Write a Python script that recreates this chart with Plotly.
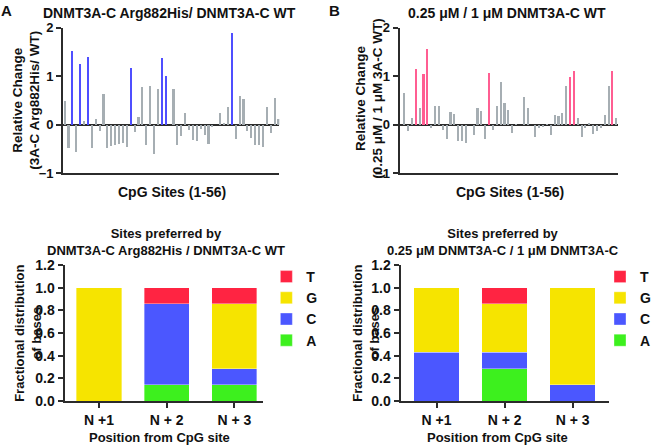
import plotly.graph_objects as go

W, H = 656, 445

# ---------------- data ----------------
sites = list(range(1, 57))
mutant_wt_change = [0.49, -0.49, 1.52, -0.56, 1.24, 0.07, 1.40, -0.48, 0.12, -0.13,
                    0.63, -0.48, -0.45, -0.43, -0.41, -0.38, -0.47, 1.16, -0.16, 0.16,
                    0.77, -0.42, 0.79, -0.61, 0.74, 1.37, 0.99, 0.0, 0.74, -0.42,
                    -0.23, 0.24, -0.12, -0.32, -0.34, -0.10, -0.21, -0.40, -0.05, 0.0,
                    0.24, 0.03, 0.36, 1.88, -0.29, 0.59, 0.53, -0.13, -0.27, -0.43,
                    -0.43, -0.47, 0.36, -0.17, 0.55, 0.12]
mutant_preferred = [3, 5, 7, 18, 26, 27, 44]

conc_change = [0.64, -0.14, 0.14, 1.14, 0.34, 1.05, 1.55, -0.08, 0.38, 0.38,
               -0.12, -0.29, 0.25, 0.21, -0.34, -0.35, -0.38, 0.0, -0.21, 0.33,
               0.28, -0.30, 1.06, -0.12, 0.38, 0.88, 0.44, 0.30, -0.17, 0.01,
               0.0, 0.56, 0.34, 0.0, -0.25, -0.08, -0.05, 0.01, -0.21, 0.19,
               0.18, 0.24, 0.79, 0.98, 1.10, 0.13, -0.26, -0.08, 0.04, -0.19,
               -0.14, -0.08, 0.20, 0.79, 1.11, 0.13]
conc_preferred = [4, 6, 7, 23, 44, 45, 55]

positions = ["N +1", "N + 2", "N + 3"]
bases = ["A", "C", "G", "T"]
mutant_fractions = {
    "A": [0.0, 1/7, 1/7],
    "C": [0.0, 5/7, 1/7],
    "G": [1.0, 0.0, 4/7],
    "T": [0.0, 1/7, 1/7],
}
conc_fractions = {
    "A": [0.0, 2/7, 0.0],
    "C": [3/7, 1/7, 1/7],
    "G": [4/7, 3/7, 6/7],
    "T": [0.0, 1/7, 0.0],
}
base_colors = {"A": "#3DF01E", "C": "#4B57FF", "G": "#F6E400", "T": "#FF2442"}

GRAY = "#A6AEB3"
BLUE = "#4F4FFF"
PINK = "#FF5E92"
AX = "#2b2b2b"
FONT = "Liberation Sans, Arial, sans-serif"


def px(x):
    return x / W


def py(y):
    return 1 - y / H


fig = go.Figure()

# ---------------- top bar charts ----------------
fig.add_trace(go.Bar(
    x=sites, y=mutant_wt_change, width=0.55,
    marker=dict(color=[BLUE if s in mutant_preferred else GRAY for s in sites], line=dict(width=0)),
    xaxis="x", yaxis="y", showlegend=False))
fig.add_trace(go.Bar(
    x=sites, y=conc_change, width=0.55,
    marker=dict(color=[PINK if s in conc_preferred else GRAY for s in sites], line=dict(width=0)),
    xaxis="x2", yaxis="y2", showlegend=False))

# ---------------- bottom stacked bars ----------------
for b in bases:
    fig.add_trace(go.Bar(
        x=positions, y=mutant_fractions[b], name=b, width=0.67,
        marker=dict(color=base_colors[b], line=dict(width=0.6, color="rgba(255,255,255,0.6)")),
        xaxis="x3", yaxis="y3", legend="legend", legendgroup="L" + b))
for b in bases:
    fig.add_trace(go.Bar(
        x=positions, y=conc_fractions[b], name=b, width=0.67,
        marker=dict(color=base_colors[b], line=dict(width=0.6, color="rgba(255,255,255,0.6)")),
        xaxis="x4", yaxis="y4", legend="legend2", legendgroup="R" + b))

tickfont = dict(family=FONT, size=13, color="#111", weight="bold")
top_y = dict(range=[-1, 2], tickvals=[-1, 0, 1, 2], showgrid=False, showline=True,
             linecolor=AX, linewidth=2, ticks="outside", ticklen=5, tickwidth=2,
             tickcolor=AX, tickfont=tickfont, zeroline=True, zerolinecolor=AX,
             zerolinewidth=2, domain=[py(173), py(27.5)], automargin=False)
top_x = dict(showgrid=False, showline=True, linecolor=AX, linewidth=2,
             showticklabels=False, ticks="", zeroline=False, automargin=False)
bot_y = dict(range=[0, 1.2], dtick=0.2, tickformat=".1f", showgrid=False, showline=True,
             linecolor=AX, linewidth=2, ticks="outside", ticklen=5, tickwidth=2,
             tickcolor=AX, tickfont=dict(family=FONT, size=14, color="#111", weight="bold"),
             zeroline=False, domain=[py(401), py(265)], automargin=False)
bot_x = dict(showgrid=False, showline=True, linecolor=AX, linewidth=2, ticks="outside",
             ticklen=5, tickwidth=2, tickcolor=AX, automargin=False,
             tickfont=dict(family=FONT, size=14, color="#111", weight="bold"), zeroline=False)

fig.update_layout(
    width=W, height=H, margin=dict(l=0, r=0, t=0, b=0, pad=0), autosize=False,
    paper_bgcolor="white", plot_bgcolor="white",
    barmode="stack", font=dict(family=FONT, color="#111"),
    xaxis=dict(top_x, domain=[px(63.5), px(281)], range=[0.62, 56.2], anchor="y"),
    yaxis=dict(top_y, anchor="x"),
    xaxis2=dict(top_x, domain=[px(402), px(622)], range=[-0.21, 56.5], anchor="y2"),
    yaxis2=dict(top_y, anchor="x2"),
    xaxis3=dict(bot_x, domain=[px(65), px(265)], range=[-0.51, 2.43], anchor="y3"),
    yaxis3=dict(bot_y, anchor="x3"),
    xaxis4=dict(bot_x, domain=[px(403), px(613)], range=[-0.53, 2.54], anchor="y4"),
    yaxis4=dict(bot_y, anchor="x4"),
    legend=dict(x=px(268), y=py(261), xanchor="left", yanchor="top", traceorder="reversed",
                font=dict(family=FONT, size=14, weight="bold"), tracegroupgap=8,
                bgcolor="rgba(0,0,0,0)"),
    legend2=dict(x=px(604), y=py(261), xanchor="left", yanchor="top", traceorder="reversed",
                 font=dict(family=FONT, size=14, weight="bold"), tracegroupgap=8,
                 bgcolor="rgba(0,0,0,0)"),
)


def ann(text, x, y, size, angle=0, yanchor="middle"):
    fig.add_annotation(text=text, x=px(x), y=py(y), xref="paper", yref="paper",
                       showarrow=False, textangle=angle, xanchor="center", yanchor=yanchor,
                       font=dict(family=FONT, size=size, color="#111", weight="bold"))


ann("A", 7, 0, 15, yanchor="top")
ann("B", 337, 0, 15, yanchor="top")
ann("DNMT3A-C Arg882His/ DNMT3A-C WT", 171, 13, 14)
ann("0.25 μM / 1 μM DNMT3A-C WT", 510, 13, 14)
ann("Relative Change<br>(3A-C Arg882His/ WT)", 26, 100, 13.5, -90)
ann("Relative Change<br>(0.25 μM / 1 μM 3A-C WT)", 371, 98, 13.5, -90)
ann("CpG Sites (1-56)", 173, 192, 14)
ann("CpG Sites (1-56)", 513, 192, 14)
ann("Sites preferred by<br>DNMT3A-C Arg882His / DNMT3A-C WT", 167, 242, 13)
ann("Sites preferred by<br>0.25 μM DNMT3A-C / 1 μM DNMT3A-C", 506, 242, 13)
ann("Fractional distribution<br>of bases", 28, 333, 13, -90)
ann("Fractional distribution<br>of bases", 368, 333, 13, -90)
ann("Position from CpG site", 160, 437, 13)
ann("Position from CpG site", 501, 437, 13)

fig.write_html("out.html", config={"displayModeBar": False},
               post_script="document.body.style.margin='0';document.body.style.overflow='hidden';")
